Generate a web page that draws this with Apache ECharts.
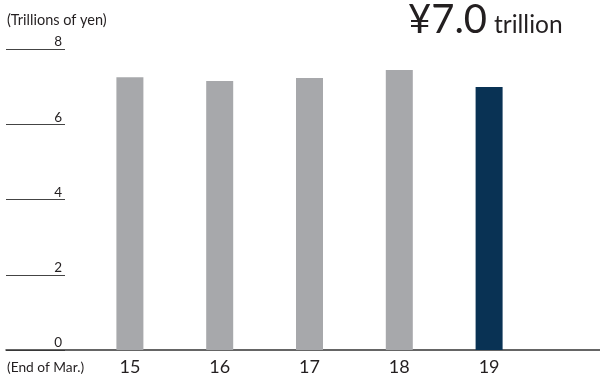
<!DOCTYPE html>
<html><head><meta charset="utf-8">
<script src="https://cdn.jsdelivr.net/npm/echarts@6/dist/echarts.min.js"></script>
<style>html,body{margin:0;padding:0;background:#fff}#c{width:600px;height:381px}</style>
</head><body><div id="c"></div>
<script>
const categories = ['15','16','17','18','19'];
const values = [7.25, 7.15, 7.23, 7.44, 6.99];
const highlightIndex = 4;
const yTicks = [0, 2, 4, 6, 8];
const FONT = 'Lato, "Noto Sans", sans-serif';
const chart = echarts.init(document.getElementById('c'), null, {renderer:'canvas'});
const TOP = 49, H = 301;
chart.setOption({
  animation:false,
  textStyle:{fontFamily:FONT},
  title:[
    {text:'(Trillions of yen)', left:2, top:8, textStyle:{fontSize:14.5, fontWeight:'normal', color:'#231f20', fontFamily:FONT}},
    {text:'(End of Mar.)', left:2, top:356, textStyle:{fontSize:13.75, fontWeight:'normal', color:'#231f20', fontFamily:FONT}},
    {text:'¥7.0', left:403, top:-5, textStyle:{fontSize:40, fontWeight:'normal', color:'#231f20', fontFamily:FONT}},
    {text:'trillion', left:489, top:8, textStyle:{fontSize:24.5, fontWeight:'normal', color:'#231f20', fontFamily:FONT}}
  ],
  grid:[
    {left:6, width:59, top:TOP, height:H},
    {left:6, right:0, top:TOP, height:H},
    {left:85, width:449, top:TOP, height:H}
  ],
  xAxis:[
    {gridIndex:0, type:'value', show:false, min:0, max:1},
    {gridIndex:1, type:'value', min:0, max:1, axisLine:{show:true, lineStyle:{color:'#333', width:1.5}}, axisTick:{show:false}, axisLabel:{show:false}, splitLine:{show:false}},
    {gridIndex:2, type:'category', data:categories, axisLine:{show:false}, axisTick:{show:false},
     axisLabel:{fontSize:18, color:'#231f20', margin:8, fontFamily:FONT}}
  ],
  yAxis:[
    {gridIndex:0, type:'value', min:yTicks[0], max:yTicks[yTicks.length-1], interval:yTicks[1]-yTicks[0], position:'right',
     axisLine:{show:false}, axisTick:{show:false},
     axisLabel:{inside:true, verticalAlign:'bottom', margin:3, fontSize:13.5, color:'#231f20', fontFamily:FONT, formatter:v=>String(v)},
     splitLine:{show:true, lineStyle:{color:'#444', width:1}}},
    {gridIndex:1, type:'value', min:0, max:8, show:false},
    {gridIndex:2, type:'value', min:0, max:8, show:false}
  ],
  series:[{
    type:'bar', xAxisIndex:2, yAxisIndex:2, barWidth:27,
    data:values.map((v,i)=>({value:v, itemStyle:{color: i===highlightIndex ? '#093254' : '#a7a8ab'}}))
  }]
});
</script></body></html>
